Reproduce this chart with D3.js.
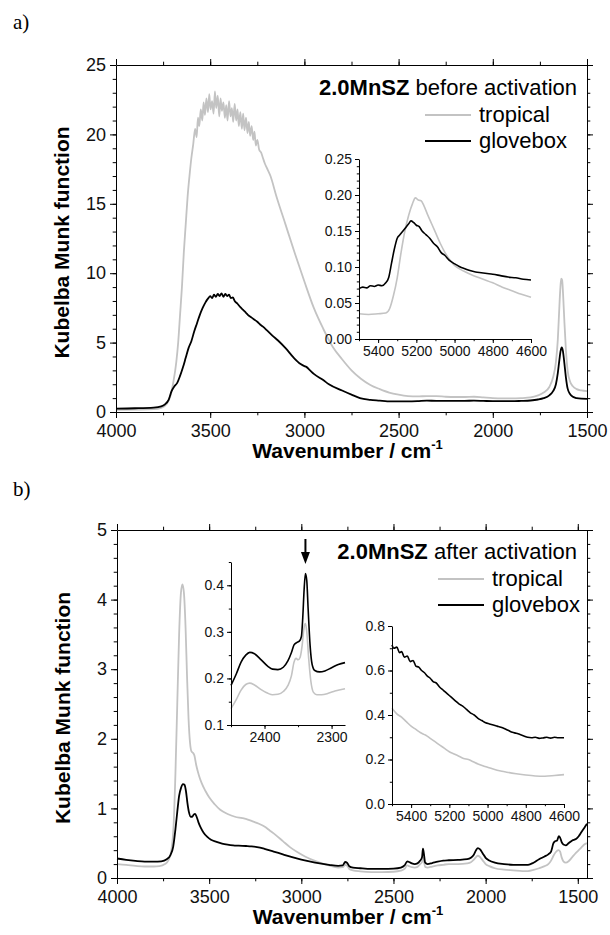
<!DOCTYPE html>
<html>
<head>
<meta charset="utf-8">
<script src="https://cdn.jsdelivr.net/npm/d3@7"></script>
<style>
  body { margin: 0; background: #fff; }
  svg { display: block; font-family: "Liberation Sans", Arial, sans-serif; }
  .axis path, .axis line { stroke: #000; stroke-width: 1; }
  .axis text { fill: #111; }
</style>
</head>
<body>
<div id="chart"></div>
<script>
// ---- data (wavenumber, Kubelka-Munk) ----
const aTropical = [[4000,0.15],[3900,0.17],[3800,0.2],[3760,0.3],[3730,0.6],[3710,1.2],[3695,2.2],[3680,3.6],[3670,5],[3660,7],[3650,9],[3640,11.5],[3630,13.5],[3620,15.5],[3610,17],[3600,18.3],[3590,19.3],
  [3580,20.4],[3572,19.8],[3565,21.2],[3558,20.6],[3550,21.8],[3542,21.0],[3535,22.3],[3528,21.4],[3520,22.6],[3512,21.6],[3505,22.9],[3498,21.8],[3490,22.4],[3482,21.5],[3475,23.1],[3468,21.9],[3460,22.8],[3452,21.3],[3445,22.6],[3438,21.7],[3430,22.3],[3422,21.2],[3415,22.1],[3408,21.0],[3400,22.4],[3392,21.3],[3385,21.9],[3378,20.9],[3370,22.2],[3362,21.0],[3355,21.8],[3348,20.6],[3340,21.6],[3332,20.4],[3325,21.5],[3318,20.3],[3310,21.2],[3302,20.1],[3295,20.9],[3288,19.9],[3280,20.6],[3272,19.6],[3265,20.2],[3258,19.2],[3250,19.6],[3240,18.9],[3230,18.7],[3220,18.3],[3210,17.9],[3200,17.6],[3180,17.0],[3150,15.6],[3100,13.5],[3050,11.4],[3000,9.4],[2950,7.5],[2900,6.0],[2850,4.7],[2800,3.8],[2750,3.0],[2700,2.4],[2650,1.95],[2600,1.65],[2550,1.4],[2500,1.25],[2450,1.15],[2400,1.12],[2350,1.15],[2300,1.15],[2250,1.1],[2200,1.08],[2150,1.08],[2100,1.1],[2050,1.05],[2000,1.0],[1950,0.98],[1900,0.98],[1850,1.0],[1800,1.05],[1760,1.2],[1730,1.4],[1700,1.8],[1680,2.5],[1665,3.6],[1655,5.2],[1648,7.2],[1642,8.8],[1637,9.6],[1632,9.5],[1627,8.5],[1620,6.5],[1612,4.5],[1603,3.0],[1590,2.2],[1575,1.85],[1555,1.65],[1530,1.55],[1500,1.5]];

const aGlovebox = [[4000,0.25],[3900,0.27],[3800,0.32],[3760,0.4],[3740,0.55],[3720,0.9],[3705,1.5],[3690,1.85],[3675,2.1],[3660,2.6],[3645,3.2],[3630,3.9],[3615,4.6],[3600,5.1],[3585,5.8],[3570,6.4],[3555,7.0],[3540,7.5],[3525,7.9],[3510,8.2],[3500,8.35],[3490,8.2],[3480,8.45],[3470,8.3],[3460,8.5],[3450,8.35],[3440,8.55],[3430,8.3],[3420,8.5],[3410,8.35],[3400,8.45],[3390,8.2],[3380,8.25],[3370,8.0],[3355,7.8],[3340,7.55],[3325,7.35],[3310,7.15],[3300,7.0],[3280,6.8],[3265,6.65],[3250,6.5],[3235,6.3],[3220,6.15],[3200,5.9],[3170,5.5],[3140,5.15],[3100,4.6],[3056,3.9],[3020,3.45],[3000,3.3],[2990,3.25],[2970,3.0],[2950,2.75],[2900,2.3],[2870,2.0],[2800,1.55],[2750,1.25],[2705,1.0],[2650,0.88],[2600,0.82],[2560,0.77],[2500,0.76],[2450,0.76],[2400,0.78],[2350,0.82],[2300,0.8],[2250,0.8],[2200,0.8],[2150,0.8],[2100,0.82],[2050,0.8],[2000,0.78],[1950,0.78],[1900,0.78],[1850,0.8],[1800,0.83],[1760,0.9],[1730,1.0],[1700,1.2],[1680,1.5],[1665,2.0],[1655,2.8],[1647,3.7],[1640,4.4],[1634,4.65],[1628,4.4],[1620,3.5],[1612,2.5],[1603,1.7],[1590,1.3],[1575,1.1],[1555,1.0],[1530,0.96],[1500,0.95]];

const aInsetTropical = [[5500,0.035],[5450,0.034],[5400,0.035],[5360,0.036],[5340,0.042],[5320,0.06],[5300,0.085],[5280,0.12],[5260,0.15],[5240,0.172],[5220,0.188],[5205,0.196],[5190,0.193],[5175,0.192],[5160,0.185],[5140,0.172],[5120,0.16],[5100,0.148],[5075,0.133],[5050,0.12],[5025,0.11],[5000,0.102],[4950,0.094],[4900,0.088],[4850,0.083],[4800,0.078],[4750,0.072],[4700,0.067],[4650,0.062],[4600,0.058]];

const aInsetGlovebox = [[5500,0.07],[5480,0.072],[5460,0.071],[5440,0.074],[5420,0.073],[5400,0.075],[5380,0.074],[5360,0.078],[5345,0.085],[5330,0.105],[5315,0.125],[5300,0.14],[5285,0.145],[5270,0.15],[5255,0.155],[5240,0.16],[5228,0.164],[5215,0.162],[5200,0.158],[5185,0.156],[5170,0.15],[5150,0.145],[5130,0.14],[5110,0.133],[5090,0.128],[5070,0.12],[5050,0.116],[5030,0.11],[5010,0.106],[4990,0.103],[4970,0.1],[4950,0.098],[4920,0.095],[4890,0.093],[4860,0.092],[4830,0.091],[4800,0.09],[4760,0.088],[4720,0.086],[4680,0.085],[4640,0.083],[4600,0.082]];

const bTropical = [[4000,0.2],[3950,0.19],[3900,0.175],[3850,0.165],[3800,0.165],[3770,0.17],[3740,0.2],[3720,0.26],[3705,0.4],[3693,0.75],[3683,1.5],[3673,2.5],[3663,3.5],[3653,4.1],[3645,4.22],[3637,4.1],[3628,3.6],[3620,2.9],[3612,2.3],[3604,1.95],[3596,1.82],[3588,1.8],[3580,1.76],[3570,1.62],[3555,1.47],[3540,1.36],[3520,1.25],[3500,1.16],[3470,1.06],[3440,0.98],[3400,0.92],[3360,0.88],[3320,0.86],[3290,0.84],[3260,0.81],[3230,0.78],[3200,0.74],[3170,0.68],[3140,0.62],[3100,0.53],[3060,0.44],[3020,0.37],[2980,0.31],[2940,0.26],[2900,0.22],[2850,0.18],[2800,0.15],[2775,0.155],[2762,0.19],[2752,0.18],[2740,0.13],[2720,0.11],[2680,0.095],[2620,0.085],[2560,0.085],[2500,0.09],[2460,0.105],[2440,0.13],[2425,0.18],[2415,0.17],[2400,0.155],[2385,0.15],[2370,0.16],[2355,0.2],[2345,0.23],[2340,0.3],[2335,0.24],[2328,0.16],[2315,0.15],[2290,0.165],[2260,0.18],[2230,0.19],[2200,0.2],[2150,0.2],[2100,0.21],[2080,0.225],[2065,0.26],[2052,0.3],[2042,0.32],[2030,0.3],[2015,0.25],[2000,0.2],[1980,0.17],[1950,0.14],[1900,0.12],[1850,0.11],[1800,0.1],[1770,0.1],[1740,0.115],[1710,0.14],[1680,0.17],[1660,0.2],[1645,0.25],[1632,0.32],[1620,0.37],[1605,0.4],[1596,0.38],[1588,0.3],[1578,0.24],[1565,0.22],[1550,0.24],[1530,0.3],[1510,0.36],[1495,0.4],[1480,0.44],[1465,0.48],[1450,0.5]];

const bGlovebox = [[4000,0.28],[3950,0.26],[3900,0.245],[3850,0.235],[3800,0.235],[3760,0.24],[3730,0.27],[3710,0.33],[3695,0.45],[3683,0.7],[3673,0.95],[3663,1.18],[3652,1.3],[3642,1.35],[3634,1.34],[3626,1.25],[3618,1.08],[3610,0.95],[3600,0.88],[3592,0.88],[3584,0.91],[3576,0.92],[3568,0.88],[3558,0.8],[3545,0.72],[3530,0.65],[3510,0.59],[3490,0.55],[3460,0.52],[3430,0.495],[3400,0.48],[3370,0.47],[3340,0.465],[3300,0.46],[3270,0.455],[3240,0.445],[3200,0.42],[3150,0.38],[3100,0.34],[3050,0.3],[3000,0.265],[2950,0.235],[2900,0.21],[2850,0.19],[2800,0.175],[2775,0.18],[2762,0.23],[2752,0.22],[2740,0.17],[2720,0.15],[2680,0.14],[2620,0.13],[2560,0.13],[2500,0.135],[2460,0.15],[2440,0.18],[2425,0.24],[2415,0.23],[2400,0.21],[2385,0.2],[2370,0.21],[2355,0.25],[2345,0.3],[2340,0.42],[2335,0.35],[2328,0.22],[2315,0.2],[2290,0.215],[2260,0.235],[2230,0.25],[2200,0.255],[2150,0.26],[2100,0.27],[2080,0.29],[2065,0.33],[2052,0.4],[2042,0.43],[2030,0.41],[2015,0.35],[2000,0.29],[1980,0.25],[1950,0.22],[1900,0.2],[1850,0.19],[1800,0.19],[1770,0.19],[1740,0.22],[1710,0.27],[1680,0.31],[1660,0.34],[1645,0.38],[1632,0.5],[1622,0.53],[1612,0.54],[1603,0.6],[1596,0.58],[1588,0.52],[1578,0.48],[1565,0.47],[1550,0.5],[1530,0.54],[1510,0.56],[1495,0.6],[1480,0.66],[1465,0.72],[1450,0.78]];

const bCO2Tropical = [[2450,0.135],[2442,0.155],[2435,0.175],[2428,0.187],[2422,0.19],[2415,0.186],[2405,0.176],[2395,0.168],[2388,0.165],[2380,0.166],[2372,0.172],[2365,0.185],[2360,0.205],[2356,0.235],[2353,0.243],[2350,0.24],[2347,0.245],[2344,0.27],[2341,0.31],[2339,0.318],[2337,0.3],[2334,0.24],[2331,0.195],[2327,0.17],[2322,0.165],[2315,0.165],[2305,0.168],[2295,0.173],[2280,0.178]];

const bCO2Glovebox = [[2450,0.185],[2442,0.21],[2435,0.235],[2428,0.25],[2422,0.256],[2415,0.253],[2405,0.24],[2395,0.226],[2388,0.22],[2380,0.219],[2372,0.224],[2365,0.238],[2360,0.255],[2356,0.272],[2352,0.277],[2348,0.28],[2345,0.29],[2343,0.33],[2341,0.39],[2339,0.425],[2337,0.41],[2335,0.35],[2332,0.27],[2329,0.23],[2325,0.217],[2318,0.214],[2310,0.216],[2300,0.223],[2290,0.23],[2280,0.234]];

const bNirTropical = [[5500,0.43],[5475,0.405],[5450,0.39],[5425,0.37],[5400,0.35],[5375,0.335],[5350,0.32],[5325,0.31],[5300,0.295],[5275,0.28],[5250,0.265],[5225,0.25],[5200,0.235],[5175,0.225],[5150,0.215],[5125,0.205],[5100,0.2],[5075,0.19],[5050,0.18],[5025,0.172],[5000,0.165],[4975,0.158],[4950,0.152],[4925,0.147],[4900,0.143],[4850,0.136],[4800,0.13],[4750,0.126],[4700,0.125],[4650,0.128],[4600,0.132]];

const bNirGlovebox = [[5500,0.715],[5490,0.70],[5475,0.705],[5460,0.68],[5450,0.685],[5435,0.66],[5420,0.665],[5405,0.64],[5390,0.645],[5375,0.62],[5360,0.615],[5345,0.60],[5330,0.59],[5315,0.575],[5300,0.565],[5285,0.55],[5270,0.545],[5250,0.525],[5230,0.51],[5210,0.495],[5190,0.48],[5170,0.465],[5150,0.45],[5130,0.44],[5110,0.425],[5090,0.41],[5070,0.40],[5050,0.385],[5030,0.375],[5010,0.365],[4990,0.36],[4970,0.355],[4950,0.35],[4930,0.345],[4910,0.338],[4890,0.33],[4870,0.322],[4850,0.318],[4830,0.312],[4810,0.306],[4790,0.3],[4770,0.298],[4750,0.3],[4730,0.295],[4710,0.297],[4690,0.3],[4670,0.296],[4650,0.3],[4630,0.298],[4600,0.298]];

const seriesNames = ["tropical", "glovebox"];
const seriesColors = {tropical: "#c3c3c3", glovebox: "#000"};

const W = 610, H = 935;
const svg = d3.select("#chart").append("svg").attr("width", W).attr("height", H);
svg.append("rect").attr("width", W).attr("height", H).attr("fill", "#fff");

function ticksStep(d0, d1, step) {
  const lo = Math.min(d0, d1), hi = Math.max(d0, d1);
  const out = [];
  for (let v = Math.ceil(lo / step - 1e-9) * step; v <= hi + 1e-9; v += step) out.push(+v.toFixed(6));
  return out;
}

function addAxis(g, axisFn, scale, major, minor, fmt, size, fontSize, pad, transform) {
  g.append("g").attr("class", "axis").attr("transform", transform)
    .call(axisFn(scale).tickValues(minor).tickSize(size * 0.55).tickFormat(""))
    .call(s => s.select(".domain").remove());
  const a = g.append("g").attr("class", "axis").attr("transform", transform)
    .call(axisFn(scale).tickValues(major).tickSize(size).tickSizeOuter(0).tickPadding(pad).tickFormat(fmt));
  a.selectAll("text").attr("font-size", fontSize);
  return a;
}

function drawPanel(o) {
  const g = svg.append("g");
  const x = d3.scaleLinear().domain(o.xDomain).range([o.left, o.right]);
  const y = d3.scaleLinear().domain(o.yDomain).range([o.bottom, o.top]);

  const line = d3.line().x(d => x(d[0])).y(d => y(d[1])).curve(d3.curveMonotoneX);
  g.append("path").datum(o.tropical).attr("d", line)
    .attr("fill", "none").attr("stroke", seriesColors.tropical).attr("stroke-width", 1.8);
  g.append("path").datum(o.glovebox).attr("d", line)
    .attr("fill", "none").attr("stroke", seriesColors.glovebox).attr("stroke-width", 1.8);

  const xMaj = ticksStep(o.xDomain[0], o.xDomain[1], 500);
  const xMin = ticksStep(o.xDomain[0], o.xDomain[1], 250);
  const yMaj = ticksStep(o.yDomain[0], o.yDomain[1], o.yStep);
  const yMin = ticksStep(o.yDomain[0], o.yDomain[1], o.yStep / 5);
  const fmt = d3.format("d");

  addAxis(g, d3.axisBottom, x, xMaj, xMin, fmt, 6, 18, 6, `translate(0,${o.bottom})`);
  addAxis(g, d3.axisLeft, y, yMaj, yMin, fmt, 6, 18, 4, `translate(${o.left},0)`);
  addAxis(g, d3.axisTop, x, xMaj, xMin, "", 6, 18, 4, `translate(0,${o.top})`);
  addAxis(g, d3.axisRight, y, yMaj, yMin, "", 6, 18, 4, `translate(${o.right},0)`);

  // panel letter
  svg.append("text").attr("x", 13).attr("y", o.letterY)
    .attr("font-family", "'Liberation Serif', 'Times New Roman', serif").attr("font-size", 21)
    .text(o.letter);

  // axis titles
  g.append("text").attr("transform", `translate(${o.left - 47},${(o.top + o.bottom) / 2 + 4}) rotate(-90)`)
    .attr("text-anchor", "middle").attr("font-weight", "bold").attr("font-size", 21)
    .text("Kubelba Munk function");
  const xt = g.append("text").attr("x", (o.left + o.right) / 2 - 4).attr("y", o.bottom + 46)
    .attr("text-anchor", "middle").attr("font-weight", "bold").attr("font-size", 21);
  xt.append("tspan").text("Wavenumber / cm");
  xt.append("tspan").attr("dy", -9).attr("font-size", 13).text("-1");

  // legend
  const t = g.append("text").attr("x", o.right - 10).attr("y", o.legendY).attr("text-anchor", "end").attr("font-size", 22);
  t.append("tspan").attr("font-weight", "bold").text("2.0MnSZ");
  t.append("tspan").text(" " + o.title);
  seriesNames.forEach((n, i) => {
    const ly = o.legendY + 27 + i * 26;
    g.append("line").attr("x1", o.legendX).attr("x2", o.legendX + 46)
      .attr("y1", ly - 7).attr("y2", ly - 7)
      .attr("stroke", seriesColors[n]).attr("stroke-width", 1.8);
    g.append("text").attr("x", o.legendX + 54).attr("y", ly).attr("font-size", 22).text(n);
  });
  return {g, x, y};
}

function drawInset(g, o) {
  const x = d3.scaleLinear().domain(o.xDomain).range([o.left, o.right]);
  const y = d3.scaleLinear().domain(o.yDomain).range([o.bottom, o.top]);
  const line = d3.line().x(d => x(d[0])).y(d => y(d[1])).curve(d3.curveMonotoneX);
  g.append("path").datum(o.tropical).attr("d", line)
    .attr("fill", "none").attr("stroke", seriesColors.tropical).attr("stroke-width", 1.6);
  g.append("path").datum(o.glovebox).attr("d", line)
    .attr("fill", "none").attr("stroke", seriesColors.glovebox).attr("stroke-width", 1.6);

  addAxis(g, d3.axisBottom, x, ticksStep(o.xDomain[0], o.xDomain[1], o.xStep),
    ticksStep(o.xDomain[0], o.xDomain[1], o.xStep / 2), d3.format("d"), 4, 14, 3, `translate(0,${o.bottom})`);
  addAxis(g, d3.axisLeft, y, ticksStep(o.yDomain[0], o.yDomain[1], o.yStep),
    ticksStep(o.yDomain[0], o.yDomain[1], o.yMinor), d3.format(o.yFmt), 4, 14, 3, `translate(${o.left},0)`);
  return {x, y};
}

// ---- panel a ----
const pa = drawPanel({
  letter: "a)", letterY: 29, title: "before activation",
  left: 116, right: 587, top: 65, bottom: 412,
  xDomain: [4000, 1500], yDomain: [0, 25], yStep: 5,
  tropical: aTropical, glovebox: aGlovebox,
  legendY: 95, legendX: 425
});
drawInset(pa.g, {
  left: 359, right: 531, top: 159, bottom: 339,
  xDomain: [5500, 4600], xStep: 200, yDomain: [0, 0.25], yStep: 0.05, yMinor: 0.01, yFmt: ".2f",
  tropical: aInsetTropical, glovebox: aInsetGlovebox
});

// ---- panel b ----
const pb = drawPanel({
  letter: "b)", letterY: 496, title: "after activation",
  left: 117, right: 587, top: 530, bottom: 878,
  xDomain: [4000, 1450], yDomain: [0, 5], yStep: 1,
  tropical: bTropical, glovebox: bGlovebox,
  legendY: 559, legendX: 438
});
const ins1 = drawInset(pb.g, {
  left: 231, right: 345, top: 562, bottom: 725,
  xDomain: [2450, 2280], xStep: 100, yDomain: [0.1, 0.45], yStep: 0.1, yMinor: 0.05, yFmt: ".1f",
  tropical: bCO2Tropical, glovebox: bCO2Glovebox
});
drawInset(pb.g, {
  left: 392, right: 564, top: 626, bottom: 804,
  xDomain: [5500, 4600], xStep: 200, yDomain: [0, 0.8], yStep: 0.2, yMinor: 0.1, yFmt: ".1f",
  tropical: bNirTropical, glovebox: bNirGlovebox
});

// arrow over the CO2 band maximum
const arrowX = ins1.x(2339);
pb.g.append("line").attr("x1", arrowX).attr("x2", arrowX).attr("y1", 539).attr("y2", 554)
  .attr("stroke", "#000").attr("stroke-width", 2);
pb.g.append("path")
  .attr("d", `M${arrowX - 4.5},552 L${arrowX + 4.5},552 L${arrowX},564 Z`).attr("fill", "#000");
</script>
</body>
</html>
